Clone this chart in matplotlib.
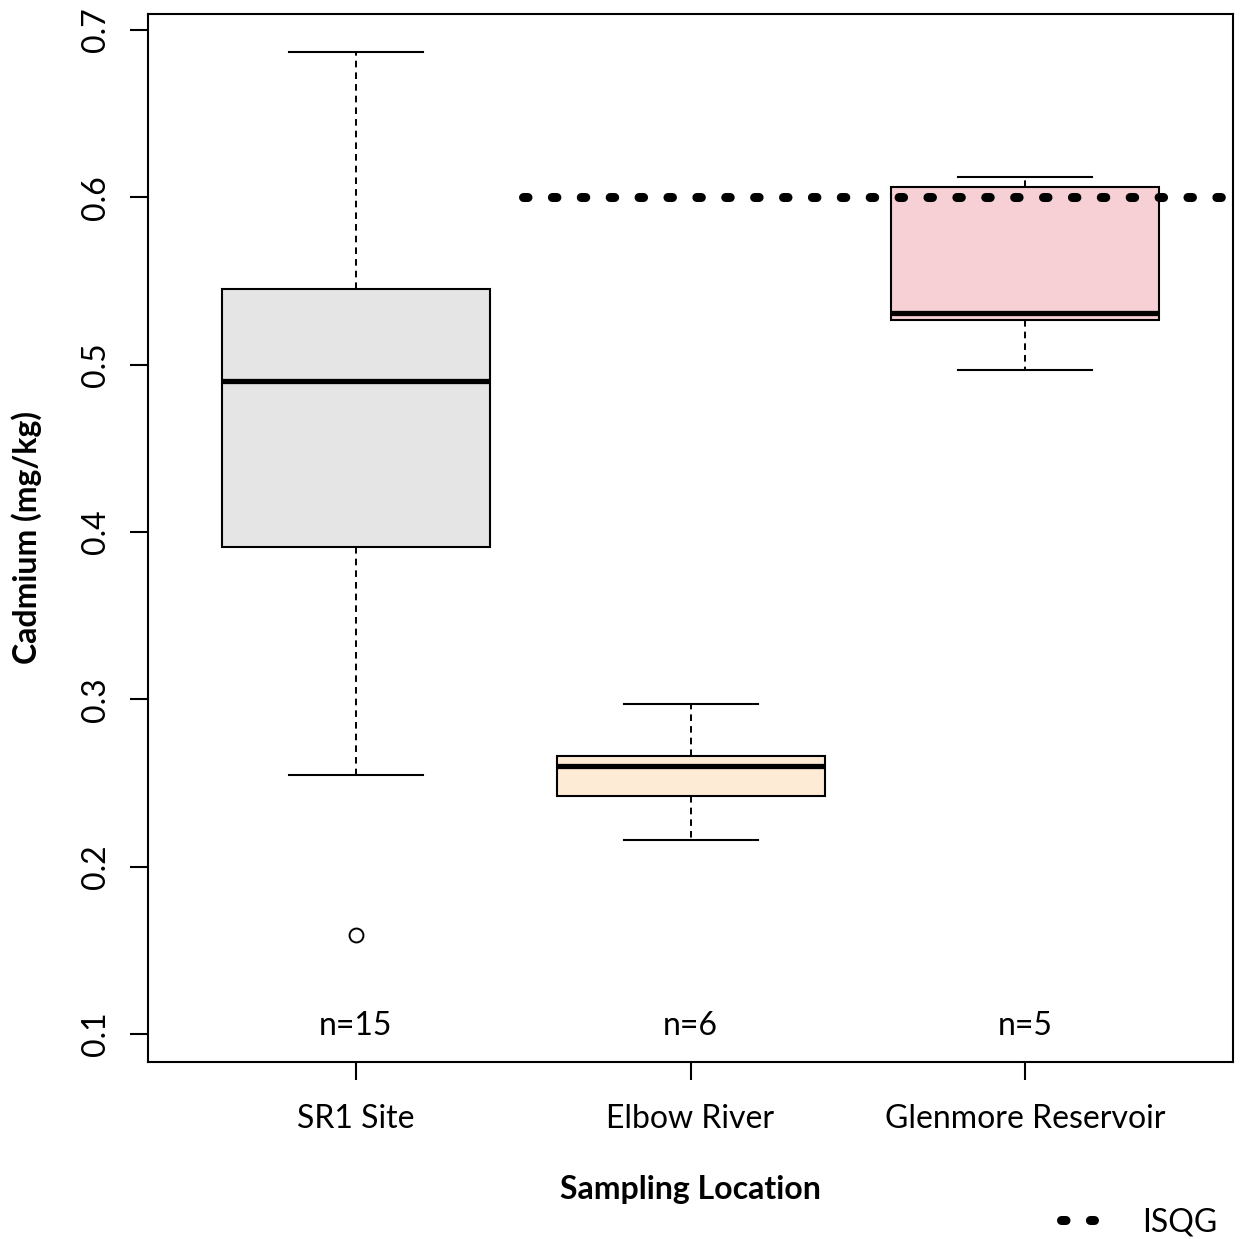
import matplotlib
matplotlib.use("Agg")
import matplotlib.pyplot as plt

plt.rcParams['font.family'] = ['Lato', 'DejaVu Sans']

# Cadmium box statistics (mg/kg)
locations = ["SR1 Site", "Elbow River", "Glenmore Reservoir"]
n_samples = [15, 6, 5]
whisker_low = [0.255, 0.216, 0.497]
q1 = [0.391, 0.242, 0.527]
medians = [0.490, 0.260, 0.531]
q3 = [0.545, 0.266, 0.606]
whisker_high = [0.687, 0.297, 0.612]
outliers = [[0.159], [], []]
box_colors = ["#E5E5E5", "#FDEBD5", "#F6D0D5"]
isqg = 0.6

stats = []
for i, loc in enumerate(locations):
    stats.append(dict(label=loc, med=medians[i], q1=q1[i], q3=q3[i],
                      whislo=whisker_low[i], whishi=whisker_high[i],
                      fliers=outliers[i]))

fig = plt.figure(figsize=(12.43, 12.39), dpi=100)
ax = fig.add_axes([0.1191, 0.1429, 0.8729, 0.8458])

positions = [1, 2, 3]
bp = ax.bxp(stats, positions=positions, widths=0.8, capwidths=0.4,
            patch_artist=True, showfliers=True,
            boxprops=dict(edgecolor='black', linewidth=1.5),
            medianprops=dict(color='black', linewidth=3.8, solid_capstyle='butt'),
            whiskerprops=dict(color='black', linewidth=1.4, linestyle=(0, (3.4, 2.6))),
            capprops=dict(color='black', linewidth=1.5),
            flierprops=dict(marker='o', markerfacecolor='none', markeredgecolor='black',
                            markersize=10, markeredgewidth=1.4))
for patch, c in zip(bp['boxes'], box_colors):
    patch.set_facecolor(c)

# ISQG guideline
ax.plot([1.5, 3.7], [isqg, isqg], color='black', linewidth=6.5,
        linestyle=(0, (0.5, 2.7)), dash_capstyle='round', label='ISQG', zorder=5)

for p, n in zip(positions, n_samples):
    ax.text(p, 0.105, f"n={n}", ha='center', va='center', fontsize=23)

ax.set_xlim(0.38, 3.62)
ax.set_ylim(0.0833, 0.7096)
ax.set_xticks(positions)
ax.set_xticklabels(locations, fontsize=23)
ax.set_yticks([0.1, 0.2, 0.3, 0.4, 0.5, 0.6, 0.7])
ax.set_yticklabels(["0.1", "0.2", "0.3", "0.4", "0.5", "0.6", "0.7"], fontsize=23,
                   rotation=90, va='center')
ax.tick_params(axis='x', length=13, width=1.5, pad=17)
ax.tick_params(axis='y', length=13, width=1.5, pad=14)

for sp in ax.spines.values():
    sp.set_linewidth(1.5)

ax.set_xlabel("Sampling Location", fontsize=23, fontweight='bold', labelpad=30)
ax.set_ylabel("Cadmium (mg/kg)", fontsize=23, fontweight='bold', labelpad=28)

fig.legend(loc='center right', bbox_to_anchor=(1.0, 1 - 1222 / 1239), frameon=False,
           fontsize=23, handlelength=1.05, handletextpad=1.5, borderaxespad=0.4)

fig.savefig("out.png", dpi=100)
